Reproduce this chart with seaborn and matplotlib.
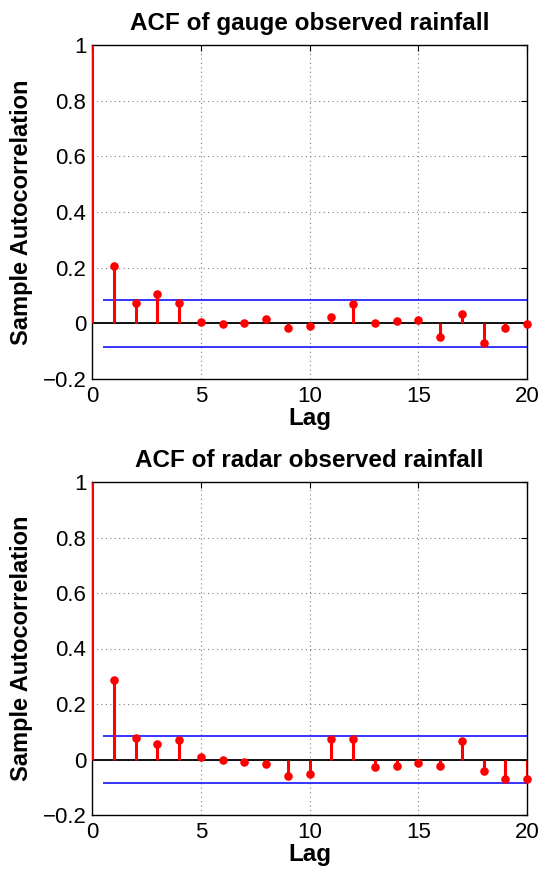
import numpy as np
import pandas as pd
import matplotlib
matplotlib.use("Agg")
import matplotlib.pyplot as plt
import seaborn as sns

sns.set_style("white")
plt.rcParams['font.family'] = ['Liberation Sans', 'DejaVu Sans']
plt.rcParams['axes.unicode_minus'] = True
plt.rcParams['text.color'] = 'black'
plt.rcParams['axes.labelcolor'] = 'black'

lags = list(range(0, 21))
gauge_acf = [1.0, 0.207, 0.072, 0.107, 0.072, 0.006, -0.002, 0.002, 0.017, -0.016,
             -0.010, 0.023, 0.070, 0.000, 0.007, 0.011, -0.050, 0.034, -0.070, -0.016, -0.001]
radar_acf = [1.0, 0.285, 0.078, 0.056, 0.071, 0.008, 0.000, -0.008, -0.016, -0.059,
             -0.054, 0.073, 0.073, -0.026, -0.025, -0.011, -0.025, 0.068, -0.043, -0.070, -0.070]
gauge_bound = 0.084
radar_bound = 0.084
titles = ["ACF of gauge observed rainfall", "ACF of radar observed rainfall"]
xticks = [0, 5, 10, 15, 20]
yticks = [-0.2, 0, 0.2, 0.4, 0.6, 0.8, 1.0]
ytick_labels = ["\u22120.2", "0", "0.2", "0.4", "0.6", "0.8", "1"]

W, H = 547, 869
fig = plt.figure(figsize=(W / 100, H / 100), dpi=100)
ax1 = fig.add_axes([92 / W, 1 - 379 / H, 435 / W, 334 / H])
ax2 = fig.add_axes([92 / W, 1 - 815 / H, 435 / W, 333 / H])

for ax, vals, bound, title in [(ax1, gauge_acf, gauge_bound, titles[0]),
                               (ax2, radar_acf, radar_bound, titles[1])]:
    df = pd.DataFrame({"lag": lags, "acf": vals})
    ax.set_xlim(0, 20)
    ax.set_ylim(-0.2, 1.0)
    ax.set_xticks(xticks)
    ax.set_yticks(yticks)
    ax.set_yticklabels(ytick_labels)
    ax.grid(True, color="#7f7f7f", linestyle=(0, (1, 3)), linewidth=0.8)
    ax.set_axisbelow(True)
    ax.axhline(0, color="black", linewidth=1.3, zorder=2)
    ax.hlines([bound, -bound], 0.5, 20, color="#0000ff", linewidth=1.1, zorder=2)
    ax.vlines(df["lag"], 0, df["acf"], color="#ff0000", linewidth=2.2, zorder=3)
    sns.scatterplot(data=df[df["lag"] > 0], x="lag", y="acf", ax=ax, color="#ff0000",
                    s=38, edgecolor="#ff0000", linewidth=0, zorder=4, clip_on=False)
    ax.set_title(title, fontsize=17.5, fontweight="bold", pad=11, color="black")
    ax.set_xlabel("Lag", fontsize=17.5, fontweight="bold", labelpad=0, color="black")
    ax.set_ylabel("Sample Autocorrelation", fontsize=17, fontweight="bold", labelpad=7,
                  color="black")
    ax.tick_params(direction="in", length=4, width=0.8, top=True, right=True,
                   labelsize=16, pad=4, colors="black")
    ax.tick_params(axis="x", pad=5)
    for sp in ax.spines.values():
        sp.set_color("black")
        sp.set_linewidth(1.0)
        sp.set_visible(True)

fig.savefig("out.png", dpi=100, facecolor="white")
